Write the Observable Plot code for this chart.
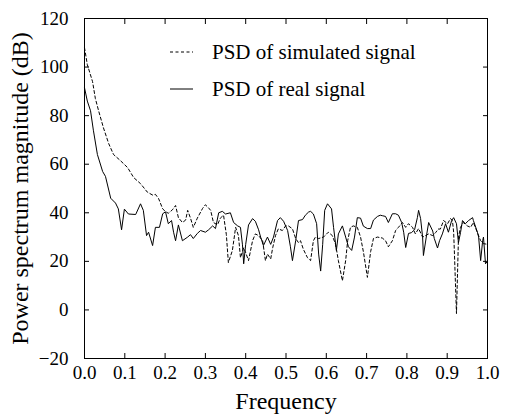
<!DOCTYPE html>
<html><head><meta charset="utf-8">
<script src="https://cdn.jsdelivr.net/npm/d3@7"></script>
<script src="https://cdn.jsdelivr.net/npm/@observablehq/plot@0.6"></script>
<style>
body{margin:0;background:#fff}
#chart svg text{font-family:"Liberation Serif", serif !important;}
</style>
</head><body><div id="chart"></div>
<script>
const freqReal = [0.000,0.007,0.015,0.022,0.032,0.045,0.052,0.065,0.077,0.084,0.092,0.099,0.109,0.127,0.139,0.146,0.154,0.159,0.169,0.176,0.186,0.194,0.201,0.208,0.216,0.221,0.226,0.233,0.243,0.256,0.263,0.270,0.280,0.288,0.300,0.308,0.318,0.325,0.333,0.342,0.350,0.362,0.370,0.380,0.387,0.392,0.395,0.400,0.407,0.417,0.424,0.432,0.437,0.444,0.454,0.462,0.469,0.479,0.486,0.494,0.504,0.511,0.516,0.524,0.531,0.541,0.548,0.556,0.561,0.568,0.576,0.581,0.586,0.591,0.596,0.603,0.613,0.618,0.625,0.630,0.640,0.648,0.655,0.663,0.670,0.677,0.685,0.692,0.702,0.710,0.717,0.727,0.734,0.739,0.747,0.754,0.764,0.772,0.779,0.787,0.792,0.797,0.804,0.811,0.819,0.826,0.829,0.834,0.839,0.841,0.849,0.854,0.864,0.868,0.876,0.881,0.888,0.896,0.903,0.911,0.916,0.923,0.928,0.933,0.938,0.945,0.953,0.963,0.965,0.975,0.978,0.983,0.988,0.990,0.995,1.000];
const psdReal = [91.5,86,82,74,64,57,55,46,44,41.6,33,41.5,39.5,39.3,43.7,41,30.6,32,26.5,34,34,39.6,40.4,35.5,36.8,32,28.5,35,28.5,30,31,29.4,31.5,32.7,32,33,34.6,33.5,40,40.6,39.5,40,36,34.6,34,26.8,19,27,35,37.6,36.5,33,30,26.5,30,27,30,36.8,38,36.5,32.7,26,20.3,28.5,36.8,37.2,39,40.3,40.6,39.5,35.5,23,16,27,41,43.7,41.6,34,24.5,31.3,34.6,30,26,24.5,30,38,37.8,34.5,33.5,33.5,37,38.5,39,38.8,38.5,36,39.6,39.6,39,36,32,25.7,31.5,31.8,33,38,41,37.6,30,22.4,31,36,32.5,29.4,25.5,28.5,31.3,35.5,32,36.8,38,35.5,27.7,31.8,36.8,35.5,36.8,38,36.8,32,30,20.3,28.5,30,19,20];
const freqSim = [0.000,0.002,0.007,0.020,0.027,0.035,0.047,0.060,0.072,0.089,0.107,0.122,0.139,0.156,0.169,0.176,0.184,0.194,0.201,0.208,0.218,0.226,0.233,0.243,0.251,0.256,0.263,0.270,0.280,0.293,0.300,0.308,0.313,0.320,0.330,0.337,0.345,0.352,0.357,0.367,0.375,0.382,0.387,0.395,0.400,0.407,0.417,0.424,0.432,0.442,0.449,0.454,0.462,0.467,0.474,0.481,0.491,0.499,0.506,0.516,0.524,0.531,0.536,0.543,0.553,0.561,0.568,0.573,0.581,0.593,0.605,0.615,0.623,0.630,0.640,0.648,0.653,0.660,0.667,0.677,0.685,0.692,0.702,0.710,0.717,0.727,0.739,0.747,0.754,0.764,0.772,0.779,0.789,0.797,0.804,0.814,0.821,0.829,0.839,0.846,0.854,0.864,0.871,0.878,0.883,0.891,0.901,0.908,0.913,0.916,0.918,0.923,0.926,0.928,0.933,0.940,0.950,0.958,0.965,0.975,0.983,0.990,1.000];
const psdSim = [108,106,101,94,87,82,75,68.5,64,61.5,58.6,54.5,52,48.5,47.3,47.6,45.8,41.6,40.5,39.8,41.2,43,38,36,37,41,37.8,34,37.8,41.8,43.3,42,41,36,35,37.8,39,31,19.5,24.5,34,30.6,21.5,25.6,23.6,20.3,28.5,31.3,30.6,28.5,20.3,23,21,25.6,30.6,33.4,32.7,34.6,34.6,33.4,29.4,27.7,28.5,25,21.6,20.3,28.5,30,29.4,30,32,30.6,27,20.3,12,20.3,28.5,34,34.6,34,30,24,13.4,24,29.4,30,29.6,28.5,26,28.5,32.7,34,36,34,35.5,34,31.3,33.5,30,30.6,31.3,30.6,31.8,33.3,33.3,36.8,35.5,37.6,36.8,32,23,-1.5,17.5,30,34,36,34.6,34,36,31.8,28.5,27.3,27];
const xTicks = [0,0.1,0.2,0.3,0.4,0.5,0.6,0.7,0.8,0.9,1.0];
const yTicks = [-20,0,20,40,60,80,100,120];
const seriesNames = ["PSD of simulated signal", "PSD of real signal"];
const xLabel = "Frequency";
const yLabel = "Power spectrum magnitude (dB)";

const real = freqReal.map((f, i) => ({f, v: psdReal[i]}));
const sim = freqSim.map((f, i) => ({f, v: psdSim[i]}));
const font = "Liberation Serif, serif";
const dash = "3,2.5";

const chart = Plot.plot({
  width: 506, height: 415,
  marginLeft: 84, marginRight: 19, marginTop: 18, marginBottom: 57,
  style: {fontFamily: font, fontSize: "19px", background: "#fff", color: "#000"},
  x: {domain: [0, 1]},
  y: {domain: [-20, 120]},
  marks: [
    Plot.line(sim, {x: "f", y: "v", stroke: "#000", strokeWidth: 1, strokeDasharray: dash}),
    Plot.line(real, {x: "f", y: "v", stroke: "#000", strokeWidth: 1}),
    Plot.frame({stroke: "#000"}),
    Plot.axisX(xTicks, {anchor: "bottom", tickSize: -5, tickPadding: 12, tickFormat: d3.format(".1f"), label: null, fontSize: 19, fontFamily: font}),
    Plot.axisX(xTicks, {anchor: "top", tickSize: -5, tickFormat: () => "", label: null}),
    Plot.axisY(yTicks, {anchor: "left", tickSize: -5, tickPadding: 21, label: null, fontSize: 19, fontFamily: font}),
    Plot.axisY(yTicks, {anchor: "right", tickSize: -5, tickFormat: () => "", label: null}),
    Plot.text([xLabel], {frameAnchor: "bottom", dy: 50, fontSize: 24, fontFamily: font, textAnchor: "middle", text: d => d}),
    Plot.text([yLabel], {frameAnchor: "left", dx: -64, rotate: -90, fontSize: 24, fontFamily: font, textAnchor: "middle", text: d => d})
  ]
});

// legend (pixel placement inside the frame)
const svg = d3.select(chart);
const leg = svg.append("g").attr("font-family", font).attr("font-size", 21).attr("text-anchor", "start");
const items = [{name: seriesNames[0], dash: dash, y: 52}, {name: seriesNames[1], dash: null, y: 89}];
for (const it of items) {
  leg.append("line").attr("x1", 170).attr("x2", 193).attr("y1", it.y).attr("y2", it.y)
    .attr("stroke", "#000").attr("stroke-width", 1).attr("stroke-dasharray", it.dash);
  leg.append("text").attr("x", 212).attr("y", it.y).attr("dy", "0.35em").attr("fill", "#000").text(it.name);
}
document.getElementById("chart").appendChild(chart);
</script>
</body></html>
